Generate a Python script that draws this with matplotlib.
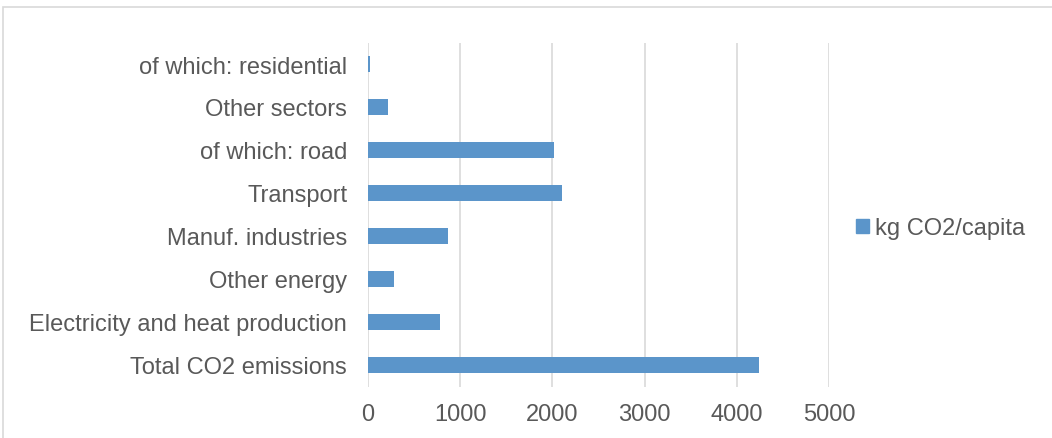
import matplotlib
matplotlib.use("Agg")
import matplotlib.pyplot as plt
from matplotlib.patches import Rectangle, Patch

plt.rcParams['font.family'] = ['Liberation Sans', 'DejaVu Sans']

categories = ["Total CO2 emissions", "Electricity and heat production", "Other energy",
              "Manuf. industries", "Transport", "of which: road", "Other sectors",
              "of which: residential"]
values = [4244, 781, 279, 864, 2104, 2021, 217, 20]
xticks = [0, 1000, 2000, 3000, 4000, 5000]
series_name = "kg CO2/capita"

W, H = 1052, 439
fig = plt.figure(figsize=(W/100, H/100), dpi=100)
fig.patches.append(Rectangle((3/W, -0.1), 1.2, 1.1 - 8/H, transform=fig.transFigure,
                             fill=False, edgecolor='#d9d9d9', linewidth=1.2))

ax = fig.add_axes([368/W, 1 - 387.5/H, (829-368)/W, (387.5-43.5)/H])
bar_color = '#5b95ca'
y = list(range(len(categories)))
ax.barh(y, values, height=0.38, color=bar_color, zorder=3, label=series_name)
ax.set_ylim(-0.5, len(categories) - 0.5)
ax.set_xlim(0, 5000)
ax.set_xticks(xticks)
ax.set_xticklabels([str(t) for t in xticks])
ax.set_yticks(y)
ax.set_yticklabels(categories)
ax.grid(axis='x', color='#d9d9d9', linewidth=1.2, zorder=0)
for s in ax.spines.values():
    s.set_visible(False)
ax.tick_params(axis='both', length=0, labelsize=17, colors='#595959')
ax.tick_params(axis='y', pad=15)
ax.tick_params(axis='x', pad=12)

leg = fig.legend(handles=[Patch(color=bar_color)], labels=[series_name],
                 loc='center left', bbox_to_anchor=(835/W, 1 - 229/H),
                 frameon=False, fontsize=17, handlelength=0.55, handleheight=0.55,
                 handletextpad=0.25, labelcolor='#595959')

fig.savefig("out.png", dpi=100)
